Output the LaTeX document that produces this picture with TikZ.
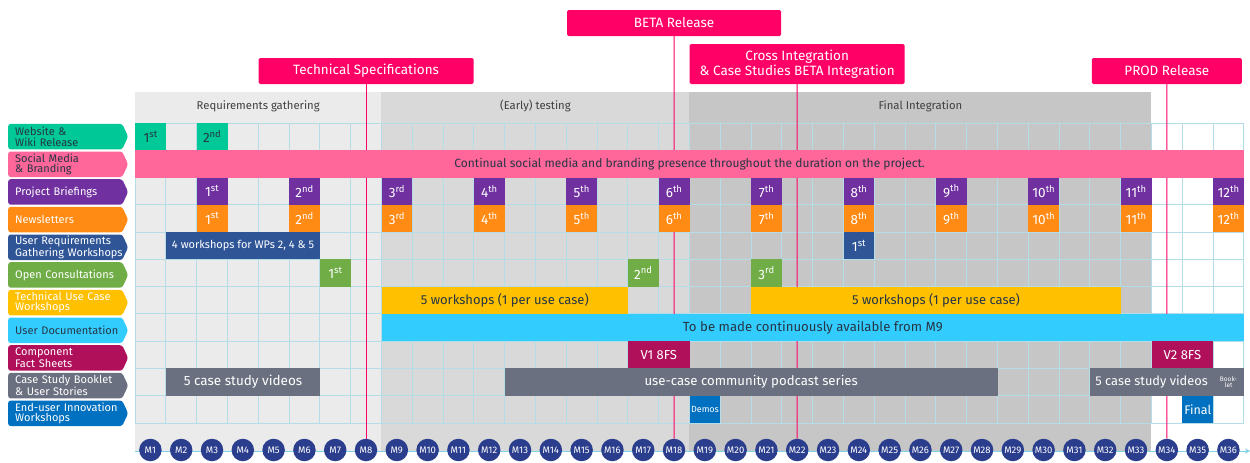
\documentclass[tikz,border=0pt]{standalone}
\usepackage{fontspec}
\setmainfont{Fira Sans}
\usetikzlibrary{positioning,shapes.symbols,arrows.meta}
\definecolor{mspink}{HTML}{FF0066}
\definecolor{webgreen}{HTML}{00C896}
\definecolor{socialpink}{HTML}{FF6699}
\definecolor{briefpurple}{HTML}{7030A0}
\definecolor{newsorange}{HTML}{FF8A14}
\definecolor{urgwblue}{HTML}{2F5597}
\definecolor{consultgreen}{HTML}{70AD47}
\definecolor{usecaseamber}{HTML}{FFC000}
\definecolor{doccyan}{HTML}{33CCFF}
\definecolor{factmagenta}{HTML}{B0105A}
\definecolor{caseslate}{HTML}{6B7080}
\definecolor{innovblue}{HTML}{0070C0}
\definecolor{monthblue}{HTML}{2B3E8E}
\definecolor{bgone}{HTML}{EBEBEB}
\definecolor{bgtwo}{HTML}{D9D9D9}
\definecolor{bgthree}{HTML}{C6C6C6}
\definecolor{gridblue}{HTML}{B4DDE8}
\definecolor{axisblue}{HTML}{7FD3E8}
\definecolor{labeldark}{HTML}{263645}
\definecolor{phasetext}{HTML}{404040}
\newcommand{\nohyph}{\hyphenpenalty=10000\relax\exhyphenpenalty=10000\relax\hfuzz=60pt\relax}

\begin{document}
\begin{tikzpicture}[x=1pt,y=-1pt,
	span/.style n args={3}{anchor=west,minimum width={(#3-#2+1)*30.8pt},at={({135+(#2-1)*30.8},{123+(#1-0.5)*27.27})}},
	bar/.style={inner sep=0pt,minimum height=27.27pt,text=white,font=\fontsize{13.5}{13.5}\selectfont},
	tag/.style={signal,signal to=east,signal pointer angle=130,rounded corners=2.5pt,fill=#1,inner xsep=7pt,inner ysep=0pt,minimum height=25.5pt,text width=100pt,align=left,text=white,font=\fontsize{11}{10.5}\selectfont\nohyph},
	milestone/.style={fill=mspink,text=white,rounded corners=1.5pt,inner sep=0pt,minimum height=26pt,align=center,font=\fontsize{13.5}{14.5}\selectfont},
	month/.style={circle,fill=monthblue,text=white,inner sep=0pt,minimum size=22.5pt,font=\fontsize{9.5}{9.5}\selectfont},
	phase/.style={text=phasetext,font=\fontsize{11.3}{11.3}\selectfont},
	gridline/.style={gridblue,line width=0.8pt},
	msline/.style={mspink,line width=1pt},
	axisline/.style={axisblue,line width=1pt}]
	\useasboundingbox (0,0) rectangle (1250,463);

	\fill[bgone] (135,92) rectangle (381.4,451);
	\fill[bgtwo] (381.4,92) rectangle (689.4,451);
	\fill[bgthree] (689.4,92) rectangle (1151.4,451);
	\node[phase] (reqgath) at (258.2,106) {Requirements gathering};
	\node[phase] (earlytest) at (535.4,106) {(Early) testing};
	\node[phase] (finalint) at (920.4,106) {Final Integration};

	\foreach \i in {0,...,36}
		\draw[gridline] ({135+\i*30.8},123) -- ({135+\i*30.8},423);
	\foreach \j in {0,...,11}
		\draw[gridline] (135,{123+\j*27.27}) -- (1243.8,{123+\j*27.27});

	\node[milestone,minimum width=215pt] (techspec) at (366,71) {Technical Specifications};
	\node[milestone,minimum width=214pt] (beta) at (674,23) {BETA Release};
	\node[milestone,minimum width=215pt,minimum height=40pt] (crossint) at (797.2,64) {Cross Integration\\\& Case Studies BETA Integration};
	\node[milestone,minimum width=150pt] (prod) at (1166.8,71) {PROD Release};

	\coordinate (axstart) at (135,451);
	\coordinate (axend) at (1250,451);
	\draw[axisline,-{Stealth[length=5pt,width=5pt]}] (axstart) -- (axend);
	\foreach \i in {1,...,36}
		\node[month] (m\i) at ({135+(\i-0.5)*30.8},450) {M\i};

	\draw[msline] (techspec) -- (m8);
	\draw[msline] (beta) -- (m18);
	\draw[msline] (crossint) -- (m22);
	\draw[msline] (prod) -- (m34);

	\node[bar,fill=webgreen,text=labeldark,span={1}{1}{1}] (web1) {1\textsuperscript{st}};
	\node[bar,fill=webgreen,text=labeldark,span={1}{3}{3}] (web2) {2\textsuperscript{nd}};
	\node[bar,fill=socialpink,text=labeldark,span={2}{1}{36},font=\fontsize{12}{12}\selectfont] (social) {Continual social media and branding presence throughout the duration on the project.};
	\foreach \k/\s in {1/st,2/nd,3/rd,4/th,5/th,6/th,7/th,8/th,9/th,10/th,11/th,12/th} {
		\node[bar,fill=briefpurple,span={3}{3*\k}{3*\k}] (brief\k) {\k\textsuperscript{\s}};
		\node[bar,fill=newsorange,span={4}{3*\k}{3*\k}] (news\k) {\k\textsuperscript{\s}};
	}
	\node[bar,fill=urgwblue,span={5}{2}{6},font=\fontsize{11}{11}\selectfont] (urgw) {4 workshops for WPs 2, 4 \& 5};
	\node[bar,fill=urgwblue,span={5}{24}{24}] (urgw1) {1\textsuperscript{st}};
	\node[bar,fill=consultgreen,span={6}{7}{7}] (consult1) {1\textsuperscript{st}};
	\node[bar,fill=consultgreen,span={6}{17}{17}] (consult2) {2\textsuperscript{nd}};
	\node[bar,fill=consultgreen,span={6}{21}{21}] (consult3) {3\textsuperscript{rd}};
	\node[bar,fill=usecaseamber,text=labeldark,span={7}{9}{16},font=\fontsize{13}{13}\selectfont] (usecase1) {5 workshops (1 per use case)};
	\node[bar,fill=usecaseamber,text=labeldark,span={7}{21}{32},font=\fontsize{13}{13}\selectfont] (usecase2) {5 workshops (1 per use case)};
	\node[bar,fill=doccyan,text=labeldark,span={8}{9}{36},font=\fontsize{13.2}{13.2}\selectfont] (userdoc) {To be made continuously available from M9};
	\node[bar,fill=factmagenta,span={9}{17}{18},font=\fontsize{13}{13}\selectfont] (fact1) {V1 8FS};
	\node[bar,fill=factmagenta,span={9}{34}{35},font=\fontsize{13}{13}\selectfont] (fact2) {V2 8FS};
	\node[bar,fill=caseslate,span={10}{2}{6}] (videos1) {5 case study videos};
	\node[bar,fill=caseslate,span={10}{13}{28},font=\fontsize{13.2}{13.2}\selectfont] (podcast) {use-case community podcast series};
	\node[bar,fill=caseslate,span={10}{32}{35},font=\fontsize{12.8}{12.8}\selectfont] (videos2) {5 case study videos};
	\node[bar,fill=caseslate,span={10}{36}{36},align=center,font=\fontsize{6.5}{6.5}\selectfont] (booklet) {Book-\\let};
	\node[bar,fill=innovblue,span={11}{19}{19},font=\fontsize{9}{9}\selectfont] (demos) {Demos};
	\node[bar,fill=innovblue,span={11}{35}{35},font=\fontsize{12.5}{12.5}\selectfont] (final) {Final};

	\node[tag=webgreen,text=labeldark,anchor=west] (lweb) at (8,136.6) {Website \&\\Wiki Release};
	\node[tag=socialpink,text=labeldark] (lsocial) [below=1.77pt of lweb] {Social Media\\\& Branding};
	\node[tag=briefpurple] (lbrief) [below=1.77pt of lsocial] {Project Briefings};
	\node[tag=newsorange] (lnews) [below=1.77pt of lbrief] {Newsletters};
	\node[tag=urgwblue] (lurgw) [below=1.77pt of lnews] {User Requirements\\Gathering~Workshops};
	\node[tag=consultgreen] (lconsult) [below=1.77pt of lurgw] {Open~Consultations};
	\node[tag=usecaseamber] (lusecase) [below=1.77pt of lconsult] {Technical~Use~Case\\Workshops};
	\node[tag=doccyan,text=labeldark] (luserdoc) [below=1.77pt of lusecase] {User~Documentation};
	\node[tag=factmagenta] (lfact) [below=1.77pt of luserdoc] {Component\\Fact Sheets};
	\node[tag=caseslate] (lcase) [below=1.77pt of lfact] {Case~Study~Booklet\\\& User Stories};
	\node[tag=innovblue] (linnov) [below=1.77pt of lcase] {End-user~Innovation\\Workshops};
\end{tikzpicture}
\end{document}
